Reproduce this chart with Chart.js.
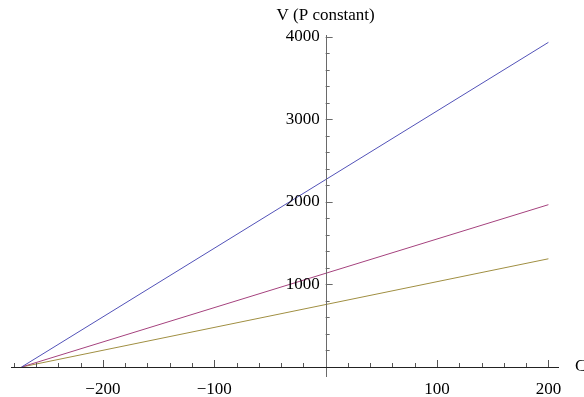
<!DOCTYPE html>
<html lang="en">
<head>
    <meta charset="UTF-8"/>
    <title>V (P constant)</title>
    <script src="https://cdn.jsdelivr.net/npm/chart.js"></script>
    <style>
        html, body {
            margin: 0;
            padding: 0;
            background-color: #fff;
            overflow: hidden;
        }
        .chart-box {
            position: relative;
            width: 584px;
            height: 397px;
        }
    </style>
</head>
<body>
<div class="chart-box">
    <canvas id="gasChart"></canvas>
</div>

<script>
    // temperature in C, endpoints of each line
    const tempsC = [-273, 200];
    const volP1 = [0, 3930];
    const volP2 = [0, 1965];
    const volP3 = [0, 1310];

    const xTickLabels = [-200, -100, 100, 200];
    const yTickLabels = [1000, 2000, 3000, 4000];
    const xMinorStep = 20;
    const yMinorStep = 200;

    const axisFont = '17px "Liberation Serif", "Times New Roman", serif';
    const xAxisColor = '#222';
    const yAxisColor = '#6a6a6a';

    const toPoints = ys => tempsC.map((t, i) => ({ x: t, y: ys[i] }));

    // draws Mathematica style axes crossing at the origin, ticks pointing inward
    const crossAxes = {
        id: 'crossAxes',
        afterDatasetsDraw(chart) {
            const ctx = chart.ctx;
            const xs = chart.scales.x;
            const ys = chart.scales.y;
            const x0 = xs.getPixelForValue(0);
            const y0 = ys.getPixelForValue(0);

            ctx.save();
            ctx.lineWidth = 1;

            // y axis + ticks
            ctx.strokeStyle = yAxisColor;
            ctx.beginPath();
            ctx.moveTo(Math.round(x0) + 0.5, ys.top);
            ctx.lineTo(Math.round(x0) + 0.5, ys.bottom);
            for (let v = yMinorStep; v <= ys.max; v += yMinorStep) {
                const py = Math.round(ys.getPixelForValue(v)) + 0.5;
                const len = v % 1000 === 0 ? 7 : 4;
                ctx.moveTo(x0, py);
                ctx.lineTo(x0 + len, py);
            }
            ctx.stroke();

            // x axis + ticks
            ctx.strokeStyle = xAxisColor;
            ctx.beginPath();
            ctx.moveTo(xs.left, Math.round(y0) + 0.5);
            ctx.lineTo(xs.right, Math.round(y0) + 0.5);
            ctx.stroke();
            ctx.strokeStyle = '#555';
            ctx.beginPath();
            for (let v = Math.ceil(xs.min / xMinorStep) * xMinorStep; v <= xs.max; v += xMinorStep) {
                if (v === 0) continue;
                const px = Math.round(xs.getPixelForValue(v)) + 0.5;
                const len = v % 100 === 0 ? 7 : 4;
                ctx.moveTo(px, y0);
                ctx.lineTo(px, y0 - len);
            }
            ctx.stroke();

            ctx.fillStyle = '#000';
            ctx.font = axisFont;
            ctx.textAlign = 'center';
            ctx.textBaseline = 'middle';
            xTickLabels.forEach(v => {
                const txt = v < 0 ? '\u2212' + Math.abs(v) : String(v);
                ctx.fillText(txt, xs.getPixelForValue(v), y0 + 23);
            });
            ctx.textAlign = 'right';
            yTickLabels.forEach(v => {
                ctx.fillText(String(v), x0 - 6, ys.getPixelForValue(v));
            });

            // axis titles
            ctx.textAlign = 'center';
            ctx.fillText('V (P constant)', x0, 16);
            ctx.textAlign = 'left';
            ctx.fillText('C', xs.right + 16, y0);
            ctx.restore();
        }
    };

    const lineStyle = color => ({
        borderColor: color,
        backgroundColor: color,
        borderWidth: 1,
        showLine: true,
        pointRadius: 0,
        tension: 0,
        fill: false
    });

    const gasChart = new Chart(document.getElementById('gasChart'), {
        type: 'scatter',
        data: {
            datasets: [
                { label: 'P = 1', data: toPoints(volP1), ...lineStyle('#5252b8') },
                { label: 'P = 2', data: toPoints(volP2), ...lineStyle('#a5427e') },
                { label: 'P = 3', data: toPoints(volP3), ...lineStyle('#a08f42') }
            ]
        },
        options: {
            responsive: true,
            maintainAspectRatio: false,
            animation: false,
            layout: {
                padding: { left: 11, right: 25, top: 35, bottom: 20 }
            },
            scales: {
                x: { type: 'linear', min: -282.5, max: 209.5, display: false },
                y: { type: 'linear', min: -121, max: 4019, display: false }
            },
            plugins: {
                legend: { display: false },
                tooltip: { enabled: false }
            }
        },
        plugins: [crossAxes]
    });
</script>
</body>
</html>
